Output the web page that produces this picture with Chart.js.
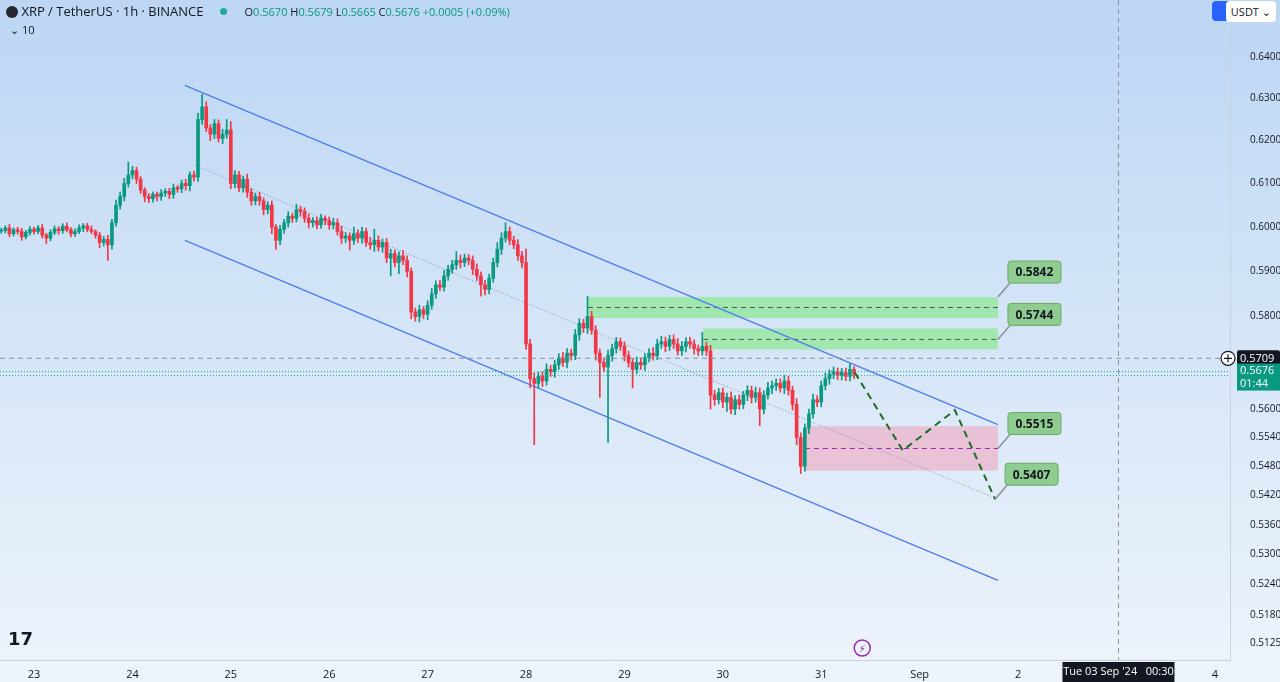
<!DOCTYPE html>
<html lang="en">
<head>
<meta charset="utf-8">
<title>XRP / TetherUS 1h</title>
<script src="https://cdn.jsdelivr.net/npm/chart.js@4.4.1/dist/chart.umd.min.js"></script>
<style>
  * { box-sizing: border-box; }
  body { margin: 0; width: 1280px; height: 682px; overflow: hidden; font-family: 'Open Sans', 'DejaVu Sans', sans-serif;
    background: linear-gradient(#bcd6f4 0%, #d3e4f7 45%, #eef4fb 100%); }
  #wrap { position: absolute; left: 0; top: 0; width: 1280px; height: 682px; }
  .hdr { position: absolute; left: 6px; top: 2px; font-size: 13px; color: #131722; white-space: nowrap; }
  .hdr .dot { display: inline-block; width: 7px; height: 7px; border-radius: 50%; background: #22ab94; margin: 0 18px 1px 16px; }
  .hdr .v { color: #089981; font-size: 11px; }
  .hdr .k { color: #131722; font-size: 11px; }
  .sub { position: absolute; left: 10px; top: 22px; font-size: 11px; color: #131722; }
  .usdt { position: absolute; right: 4px; top: 1px; background: #fff; border-radius: 4px; font-size: 11px; padding: 3px 5px; color: #131722; }
  .ico { position: absolute; left: 1212px; top: 1px; width: 20px; height: 20px; background: #2962ff; border-radius: 4px; }
</style>
</head>
<body>
<div id="wrap"><canvas id="c" width="1280" height="682"></canvas></div>
<div class="hdr"><b style="display:inline-block;width:12px;height:12px;border-radius:50%;background:#23292f;vertical-align:-2px"></b> XRP / TetherUS · 1h · BINANCE<span class="dot"></span><span class="k">O</span><span class="v">0.5670 </span><span class="k">H</span><span class="v">0.5679 </span><span class="k">L</span><span class="v">0.5665 </span><span class="k">C</span><span class="v">0.5676 +0.0005 (+0.09%)</span></div>
<div class="sub">⌄ 10</div>
<div class="ico"></div>
<div class="usdt">USDT ⌄</div>
<script>
// hours from Aug 23 00:00; first candle is Aug 22 16:00
const firstHour = -8;
const closes = [
  0.5992,0.5998,0.5985,0.5994,0.5990,0.5978,0.5988,0.5995,
  // Aug 23
  0.5990,0.5998,0.5982,0.5975,0.5988,0.5996,0.5992,0.6002,0.5994,0.5985,0.5990,0.5998,
  0.6003,0.5995,0.5990,0.5982,0.5965,0.5972,0.5960,0.6010,0.6050,0.6070,0.6100,0.6120,
  // Aug 24
  0.6130,0.6110,0.6085,0.6070,0.6065,0.6075,0.6070,0.6078,0.6082,0.6075,0.6090,0.6088,
  0.6100,0.6095,0.6120,0.6115,0.6250,0.6280,0.6230,0.6215,0.6240,0.6205,0.6215,0.6225,
  // Aug 25
  0.6100,0.6120,0.6090,0.6110,0.6080,0.6060,0.6070,0.6060,0.6040,0.6050,0.6000,0.5970,
  0.5995,0.6010,0.6025,0.6020,0.6040,0.6035,0.6020,0.6010,0.6015,0.6005,0.6020,0.6015,
  // Aug 26
  0.6005,0.6010,0.5990,0.5975,0.5980,0.5970,0.5985,0.5975,0.5990,0.5965,0.5960,0.5970,
  0.5955,0.5965,0.5930,0.5940,0.5920,0.5935,0.5925,0.5900,0.5810,0.5800,0.5815,0.5805,
  // Aug 27
  0.5825,0.5850,0.5870,0.5865,0.5890,0.5905,0.5915,0.5925,0.5920,0.5930,0.5925,0.5905,
  0.5890,0.5870,0.5860,0.5885,0.5920,0.5950,0.5975,0.5990,0.5970,0.5960,0.5935,0.5920,
  // Aug 28
  0.5740,0.5665,0.5655,0.5670,0.5660,0.5685,0.5680,0.5695,0.5710,0.5700,0.5720,0.5715,
  0.5760,0.5785,0.5775,0.5800,0.5770,0.5720,0.5700,0.5690,0.5715,0.5730,0.5745,0.5735,
  // Aug 29
  0.5715,0.5700,0.5685,0.5700,0.5695,0.5710,0.5720,0.5715,0.5740,0.5745,0.5735,0.5750,
  0.5740,0.5725,0.5735,0.5745,0.5740,0.5730,0.5725,0.5735,0.5725,0.5630,0.5620,0.5635,
  // Aug 30
  0.5615,0.5625,0.5600,0.5620,0.5610,0.5630,0.5640,0.5625,0.5635,0.5600,0.5630,0.5645,
  0.5650,0.5655,0.5645,0.5660,0.5640,0.5610,0.5540,0.5480,0.5560,0.5590,0.5620,0.5615,
  // Aug 31
  0.5650,0.5665,0.5675,0.5680,0.5672,0.5678,0.5670,0.5685,0.5676
];
// wick extents beyond the body, in 0.0001 steps
const wickUp = [
  6,5,8,4,6,7,5,6,
  5,6,8,4,6,7,5,6,8,5,6,7,5,6,8,4,6,7,10,8,12,10,12,30,
  10,8,6,5,7,6,5,8,6,7,9,6,8,10,7,9,15,30,12,8,10,9,12,25,
  20,10,8,7,12,9,8,10,7,8,10,6,9,8,10,7,12,8,9,10,7,8,9,6,
  8,10,9,12,8,7,15,9,10,8,12,25,10,8,9,10,8,9,12,10,8,9,10,7,
  10,12,9,10,12,9,10,20,12,9,8,10,12,9,10,9,10,15,12,20,10,9,12,10,
  30,10,12,9,10,12,9,10,9,12,10,9,12,10,9,45,12,10,9,10,12,10,9,8,
  10,9,8,12,10,9,10,12,10,12,10,9,10,12,10,9,10,9,8,30,9,12,10,9,
  10,9,12,9,10,8,10,9,12,10,9,12,10,9,10,12,10,9,12,10,9,10,12,9,
  10,12,9,10,8,9,10,12,6
];
const wickDn = [
  6,5,7,5,6,8,5,6,
  6,5,7,12,6,5,8,6,5,7,6,5,8,6,5,7,12,8,35,10,8,9,10,8,
  9,10,8,12,9,8,10,9,8,10,9,8,9,10,12,9,10,12,9,15,10,8,12,9,
  12,10,9,10,12,10,9,10,12,10,15,20,10,9,10,9,8,10,9,12,10,9,8,10,
  10,9,8,12,10,22,9,10,12,9,10,15,9,12,10,40,10,25,10,12,15,10,12,10,
  12,9,10,8,9,10,9,10,12,9,10,12,10,25,12,10,9,10,12,9,10,9,10,12,
  12,20,130,10,12,9,10,12,10,9,12,10,9,12,10,12,9,15,75,10,160,12,10,9,
  12,10,40,9,10,12,9,10,9,10,12,9,10,9,10,12,9,12,10,9,10,30,12,9,
  12,20,10,12,10,9,12,12,10,35,10,9,12,10,9,12,10,12,15,15,10,12,9,10,
  10,9,12,10,9,10,9,10,11
];

const yTicks = [0.64, 0.63, 0.62, 0.61, 0.60, 0.59, 0.58, 0.56, 0.554, 0.548, 0.542, 0.536, 0.53, 0.524, 0.518, 0.5125];
const dayTicks = [0, 24, 48, 72, 96, 120, 144, 168, 192, 216, 240, 288];
const dayLabels = ['23', '24', '25', '26', '27', '28', '29', '30', '31', 'Sep', '2', '4'];

// drawings: [hour, price]
const upperChannel = [[36.8, 0.6331], [235.1, 0.5567]];
const lowerChannel = [[36.8, 0.5970], [235.1, 0.5248]];
const midChannel = [[39.3, 0.6142], [235.1, 0.5412]];
const projection = [[200.2, 0.5678], [211.9, 0.5513], [224.6, 0.5598], [234.4, 0.5412]];
// zones: start hour, end hour, top, bottom, mid
const zones = [
  { from: 135.1, to: 235.1, top: 0.5843, bottom: 0.5797, mid: 0.5820, fill: 'rgba(142,232,150,0.75)', dash: '#555' },
  { from: 163.2, to: 235.1, top: 0.5774, bottom: 0.5728, mid: 0.5750, fill: 'rgba(142,232,150,0.75)', dash: '#555' },
  { from: 188.0, to: 235.1, top: 0.5564, bottom: 0.5471, mid: 0.5517, fill: 'rgba(242,160,185,0.55)', dash: '#9c27b0' }
];
// target labels: text, anchor hour, anchor price
const targets = [
  ['0.5842', 235.1, 0.5843],
  ['0.5744', 235.1, 0.5750],
  ['0.5515', 235.1, 0.5517],
  ['0.5407', 234.4, 0.5412]
];
const hoverPrice = 0.5709;
const lastPrice = 0.5676;
const crossHour = 264.5;

const UP = '#089981', DN = '#f23645';
const wicks = [], bodies = [], colors = [];
closes.forEach((c, i) => {
  const o = i === 0 ? c : closes[i - 1];
  const h = firstHour + i;
  const hi = Math.max(o, c) + wickUp[i] / 10000;
  const lo = Math.min(o, c) - wickDn[i] / 10000;
  const b = Math.abs(c - o) < 0.0002 ? [Math.min(o, c) - 0.0001, Math.max(o, c) + 0.0001] : [o, c];
  wicks.push({ x: h, y: [lo, hi] });
  bodies.push({ x: h, y: b });
  colors.push(c >= o ? UP : DN);
});
const pts = arr => arr.map(p => ({ x: p[0], y: p[1] }));

const datasets = [];
zones.forEach(z => {
  datasets.push({ type: 'line', data: [{ x: z.from, y: z.top }, { x: z.to, y: z.top }], borderWidth: 0, pointRadius: 0, fill: '+1', backgroundColor: z.fill, order: 5 });
  datasets.push({ type: 'line', data: [{ x: z.from, y: z.bottom }, { x: z.to, y: z.bottom }], borderWidth: 0, pointRadius: 0, fill: false, order: 5 });
  datasets.push({ type: 'line', data: [{ x: z.from, y: z.mid }, { x: z.to, y: z.mid }], borderColor: z.dash, borderWidth: 1, borderDash: [5, 4], pointRadius: 0, order: 4 });
});
datasets.push({ type: 'bar', data: wicks, backgroundColor: colors, barThickness: 1, grouped: false, order: 2 });
datasets.push({ type: 'bar', data: bodies, backgroundColor: colors, barThickness: 3, grouped: false, order: 1 });
datasets.push({ type: 'line', data: pts(upperChannel), borderColor: '#4d7cf0', borderWidth: 1.3, pointRadius: 0, order: 3 });
datasets.push({ type: 'line', data: pts(lowerChannel), borderColor: '#4d7cf0', borderWidth: 1.3, pointRadius: 0, order: 3 });
datasets.push({ type: 'line', data: pts(midChannel), borderColor: 'rgba(90,120,200,0.8)', borderWidth: 1, borderDash: [1, 2], pointRadius: 0, order: 3 });
datasets.push({ type: 'line', data: pts(projection), borderColor: '#1f6b2a', borderWidth: 2, borderDash: [7, 5], pointRadius: 0, order: 0 });

const overlay = {
  id: 'overlay',
  afterDatasetsDraw(chart) {
    const { ctx, chartArea: a, scales: { x, y } } = chart;
    ctx.save();
    let py = y.getPixelForValue(hoverPrice);
    ctx.strokeStyle = '#8a8f9c'; ctx.lineWidth = 1; ctx.setLineDash([5, 4]);
    ctx.beginPath(); ctx.moveTo(a.left, py); ctx.lineTo(a.right, py); ctx.stroke();
    const cx = x.getPixelForValue(crossHour);
    ctx.beginPath(); ctx.moveTo(cx, 0); ctx.lineTo(cx, a.bottom); ctx.stroke();
    const ly = y.getPixelForValue(lastPrice);
    ctx.strokeStyle = '#22ab94'; ctx.setLineDash([1, 2]);
    [-2, 2].forEach(d => { ctx.beginPath(); ctx.moveTo(a.left, ly + d); ctx.lineTo(a.right, ly + d); ctx.stroke(); });
    ctx.setLineDash([]);
    ctx.font = 'bold 12px "Open Sans", sans-serif';
    targets.forEach(([t, h, p]) => {
      const ax = x.getPixelForValue(h), ay = y.getPixelForValue(p);
      const bx = ax + 10, by = ay - 36, bw = 53, bh = 22;
      ctx.strokeStyle = '#8a8f9c'; ctx.lineWidth = 1.5;
      ctx.beginPath(); ctx.moveTo(ax, ay); ctx.lineTo(bx + 2, by + bh); ctx.stroke();
      ctx.fillStyle = '#8fcc8f'; ctx.strokeStyle = '#6aa86a'; ctx.lineWidth = 1;
      ctx.beginPath(); ctx.roundRect(bx, by, bw, bh, 3); ctx.fill(); ctx.stroke();
      ctx.fillStyle = '#131722'; ctx.textAlign = 'center'; ctx.textBaseline = 'middle';
      ctx.fillText(t, bx + bw / 2, by + bh / 2 + 1);
    });
    ctx.font = '11px "Open Sans", sans-serif'; ctx.textAlign = 'left';
    ctx.fillStyle = '#131722';
    ctx.beginPath(); ctx.roundRect(a.right + 7, py - 8, 43, 16, 2); ctx.fill();
    ctx.fillStyle = '#fff'; ctx.fillText(hoverPrice.toFixed(4), a.right + 10, py + 1);
    ctx.strokeStyle = '#131722'; ctx.lineWidth = 1.2;
    ctx.beginPath(); ctx.arc(a.right - 2, py, 7, 0, Math.PI * 2); ctx.fillStyle = '#fff'; ctx.fill(); ctx.stroke();
    ctx.beginPath(); ctx.moveTo(a.right - 6, py); ctx.lineTo(a.right + 2, py); ctx.moveTo(a.right - 2, py - 4); ctx.lineTo(a.right - 2, py + 4); ctx.stroke();
    ctx.fillStyle = UP;
    ctx.fillRect(a.right + 7, ly - 10, 43, 27);
    ctx.fillStyle = '#fff';
    ctx.fillText(lastPrice.toFixed(4), a.right + 10, ly - 3);
    ctx.fillText('01:44', a.right + 10, ly + 10);
    ctx.fillStyle = '#131722';
    ctx.fillRect(cx - 56, a.bottom + 2, 112, 20);
    ctx.fillStyle = '#fff'; ctx.textAlign = 'center';
    ctx.fillText("Tue 03 Sep '24   00:30", cx, a.bottom + 12);
    ctx.fillStyle = '#131722'; ctx.font = 'bold 18px "DejaVu Sans", sans-serif'; ctx.textAlign = 'left';
    ctx.fillText('17', 8, a.bottom - 20);
    const ex = x.getPixelForValue(202);
    ctx.strokeStyle = '#9c27b0'; ctx.lineWidth = 1.5;
    ctx.beginPath(); ctx.arc(ex, a.bottom - 12, 8, 0, Math.PI * 2); ctx.stroke();
    ctx.fillStyle = '#9c27b0'; ctx.font = '10px "DejaVu Sans", sans-serif'; ctx.textAlign = 'center';
    ctx.fillText('⚡', ex, a.bottom - 11);
    ctx.restore();
  }
};

new Chart(document.getElementById('c'), {
  data: { datasets },
  options: {
    responsive: false, animation: false, events: [],
    layout: { padding: 0, autoPadding: false },
    plugins: { legend: { display: false }, tooltip: { enabled: false } },
    scales: {
      x: {
        type: 'linear', min: -8.3, max: 291.7, offset: false,
        grid: { display: false }, border: { color: '#c8d2de' },
        afterBuildTicks: s => { s.ticks = dayTicks.map(v => ({ value: v })); },
        afterFit: s => { s.height = 22; },
        ticks: { autoSkip: false, maxRotation: 0, color: '#131722', font: { size: 11, family: 'Open Sans' }, padding: 0,
          callback: v => dayLabels[dayTicks.indexOf(v)] }
      },
      y: {
        type: 'logarithmic', position: 'right', min: 0.5092, max: 0.6495,
        grid: { display: false }, border: { color: '#c8d2de' },
        afterBuildTicks: s => { s.ticks = yTicks.map(v => ({ value: v })); },
        afterFit: s => { s.width = 50; },
        ticks: { autoSkip: false, color: '#131722', font: { size: 10, family: 'Open Sans' }, padding: 12,
          callback: v => v.toFixed(4) }
      }
    }
  },
  plugins: [overlay]
});
</script>
</body>
</html>
